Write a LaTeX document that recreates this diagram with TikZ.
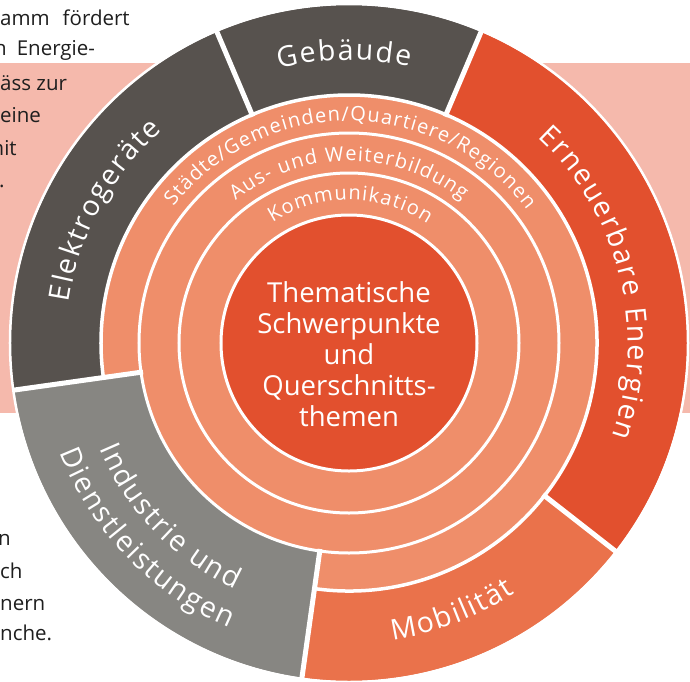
\documentclass[tikz,border=0pt]{standalone}
\usepackage{fontspec}
\setmainfont{Open Sans}
\usetikzlibrary{decorations.text}
\definecolor{slate}{RGB}{87,82,78}
\definecolor{stone}{RGB}{135,134,130}
\definecolor{flame}{RGB}{226,80,46}
\definecolor{coral}{RGB}{234,114,75}
\definecolor{salmon}{RGB}{239,142,106}
\definecolor{blush}{RGB}{245,185,172}
\definecolor{ink}{RGB}{30,30,30}
\newcommand\segfont{\fontsize{28.5}{32}\selectfont}
\newcommand\ringfont{\fontsize{20}{24}\selectfont}
\tikzset{
  gap/.style={draw=white,line width=#1},
  gap/.default=3pt,
  seglabel/.style={decorate,decoration={text effects along path,text={#1},text align=center,
    text effects/.cd,text along path,characters={text=white,font=\segfont},
    character widths={font=\segfont,inner xsep=0.9pt}}},
  ringlabel/.style={decorate,decoration={text effects along path,text={#1},text align=center,
    text effects/.cd,text along path,characters={text=white,font=\ringfont},
    character widths={font=\ringfont,inner xsep=0.6pt}}},
  body/.style={anchor=base west,inner sep=0pt,font=\fontsize{20.5}{32}\selectfont,text=ink},
}
\begin{document}
\begin{tikzpicture}[x=1pt,y=1pt]
  \useasboundingbox (-349,-338) rectangle (341,343);
  % band behind the wheel
  \fill[blush] (-349,-70) rectangle (341,280);
  % running text at the left margin
  \node[body] (t1) at (-349,318) {amm\hspace{13pt}fördert};
  \node[body] (t2) at (-355,288) {n\hspace{10pt}Energie-};
  \node[body] (t3) at (-349,253) {äss zur};
  \node[body] (t4) at (-349,221) {eine};
  \node[body] (t5) at (-364,188) {mit};
  \node[body] (t6) at (-350,156) {.};
  \node[body] (t7) at (-351,-202) {n};
  \node[body] (t8) at (-349,-235) {ch};
  \node[body] (t9) at (-349,-267) {nern};
  \node[body] (t10) at (-349,-297) {nche.};
  % inner rings
  \fill[salmon] (0,0) circle (248pt);
  \fill[flame] (0,0) circle (128pt);
  % outer sectors
  \foreach \a/\b/\ri/\c in {113/188/248/slate,67/113/248/slate,-38/67/248/flame,-98/-38/248/coral,188/262/210/stone}
    \fill[\c] (\a:338pt) arc[start angle=\a,end angle=\b,radius=338pt] -- (\b:\ri pt)
      arc[start angle=\b,end angle=\a,radius=\ri pt] -- cycle;
  % white separators
  \draw[gap] (0,0) circle (210pt) (0,0) circle (170pt) (0,0) circle (128pt);
  \draw[gap=3.5pt] (-98:248pt) arc[start angle=-98,end angle=188,radius=248pt];
  \foreach \a in {113,67,-38} \draw[gap=5pt] (\a:246pt) -- (\a:339pt);
  \foreach \a in {188,-98} \draw[gap=5pt] (\a:208pt) -- (\a:339pt);
  \draw[gap=2.5pt] (0,0) circle (339pt);
  % labels on the sectors
  \path[seglabel={Gebäude}] (141:283pt) arc[start angle=141,end angle=41,radius=283pt];
  \path[seglabel={Elektrogeräte}] (201.5:283pt) arc[start angle=201.5,end angle=101.5,radius=283pt];
  \path[seglabel={Erneuerbare Energien}] (64:279pt) arc[start angle=64,end angle=-36,radius=279pt];
  \path[seglabel={Mobilität}] (-119:300pt) arc[start angle=-119,end angle=-19,radius=300pt];
  \path[seglabel={Industrie und}] (174:271pt) arc[start angle=174,end angle=274,radius=271pt];
  \path[seglabel={Dienstleistungen}] (174:309pt) arc[start angle=174,end angle=274,radius=309pt];
  % labels on the rings
  \path[ringlabel={Städte/Gemeinden/Quartiere/Regionen}] (169.5:222pt) arc[start angle=169.5,end angle=9.5,radius=222pt];
  \path[ringlabel={Aus- und Weiterbildung}] (160:182pt) arc[start angle=160,end angle=20,radius=182pt];
  \path[ringlabel={Kommunikation}] (159.5:143pt) arc[start angle=159.5,end angle=19.5,radius=143pt];
  \node[font=\fontsize{27.5}{31}\selectfont,text=white,align=center] (core) at (0,-11)
    {Thematische\\Schwerpunkte\\und\\Querschnitts-\\themen};
\end{tikzpicture}
\end{document}
